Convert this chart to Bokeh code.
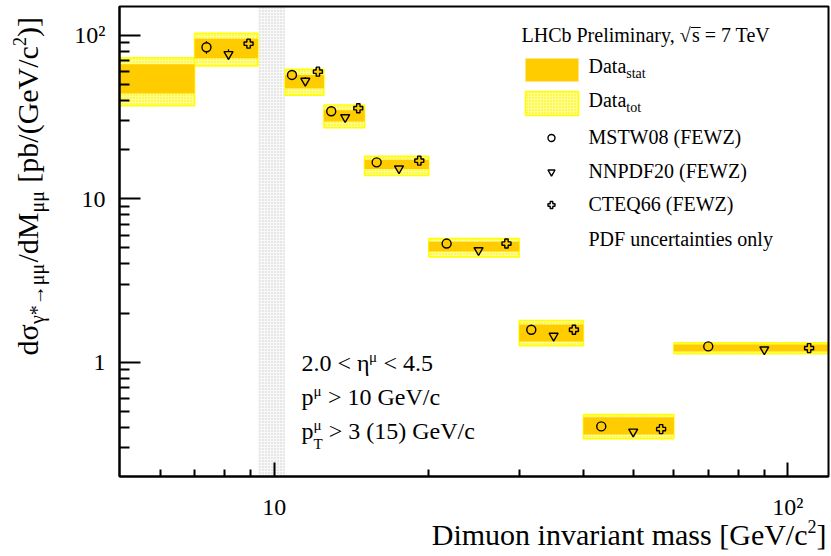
import math
from bokeh.plotting import figure
from bokeh.models import Label, BoxAnnotation, FixedTicker, Range1d, LogAxis
from bokeh.embed import file_html
from bokeh.resources import INLINE

# ---------------- data ----------------
bin_lo = [5.0, 7.0, 10.5, 12.5, 15.0, 20.0, 30.0, 40.0, 60.0]
bin_hi = [7.0, 9.3, 12.5, 15.0, 20.0, 30.0, 40.0, 60.0, 120.0]
stat_lo = [44.0, 72.3, 47.5, 29.7, 15.2, 4.75, 1.34, 0.362, 1.163]
stat_hi = [66.5, 95.3, 57.2, 34.8, 17.3, 5.45, 1.70, 0.461, 1.283]
tot_lo = [37.0, 64.9, 43.0, 27.2, 13.9, 4.40, 1.26, 0.340, 1.125]
tot_hi = [73.0, 102.9, 62.0, 37.4, 18.2, 5.71, 1.80, 0.479, 1.314]

# theory predictions exist for bins 2..9
mstw = [84.5, 57.2, 34.3, 16.7, 5.32, 1.58, 0.405, 1.25]
mstw_err = [7.5, 2.0, 1.2, 0.5, 0.15, 0.04, 0.010, 0.02]
nnpdf = [76.6, 52.6, 31.5, 15.3, 4.84, 1.45, 0.376, 1.196]
nnpdf_err = [5.5, 3.0, 1.5, 0.5, 0.15, 0.04, 0.010, 0.02]
cteq = [88.9, 59.9, 35.8, 17.1, 5.32, 1.58, 0.39, 1.22]
cteq_err = [4.0, 2.0, 1.2, 0.5, 0.15, 0.04, 0.010, 0.02]

excl_lo, excl_hi = 9.3, 10.5  # Upsilon region excluded

x_major = [10, 100]
x_minor = [6, 7, 8, 9, 20, 30, 40, 50, 60, 70, 80, 90]
x_labels = {10: "10", 100: "10\u00b2"}
y_major = [1, 10, 100]
y_minor = [0.3, 0.4, 0.5, 0.6, 0.7, 0.8, 0.9, 2, 3, 4, 5, 6, 7, 8, 9,
           20, 30, 40, 50, 60, 70, 80, 90]
y_labels = {1: "1", 10: "10", 100: "10\u00b2"}

legend_header = ["LHCb Preliminary, \u221a", "s", " = 7 TeV"]
legend_names = ["MSTW08 (FEWZ)", "NNPDF20 (FEWZ)", "CTEQ66 (FEWZ)"]
legend_note = "PDF uncertainties only"

# ---------------- layout ----------------
XMIN, XMAX = 5.0, 120.0      # axis extent
YMIN, YMAX = 0.2, 150.0
W_FIG, H_FIG = 831, 556
AX_L, AX_R, AX_T, AX_B = 119, 828, 6, 476   # pixel box of the axes
FONT = "Liberation Serif"
BASE_SHIFT = 0.38   # em; correction for where Bokeh puts the alphabetic baseline

LX0, LX1 = math.log10(XMIN), math.log10(XMAX)
LY0, LY1 = math.log10(YMIN), math.log10(YMAX)
DPX = (AX_R - AX_L) / (LX1 - LX0)
DPY = (AX_B - AX_T) / (LY1 - LY0)


def dx(px):
    return 10 ** (LX0 + (px - AX_L) / DPX)


def dy(py):
    return 10 ** (LY1 - (py - AX_T) / DPY)


p = figure(width=W_FIG, height=H_FIG, x_axis_type="log", y_axis_type="log",
           x_axis_location=None, y_axis_location=None,
           x_range=Range1d(dx(0), dx(W_FIG)), y_range=Range1d(dy(H_FIG), dy(0)),
           output_backend="svg", toolbar_location=None,
           min_border_left=0, min_border_right=0, min_border_top=0, min_border_bottom=0)
p.grid.visible = False
p.background_fill_color = "white"
p.border_fill_color = "white"
p.outline_line_color = None

xaxis = LogAxis(fixed_location=YMIN, bounds=(XMIN, XMAX))
yaxis = LogAxis(fixed_location=XMIN, bounds=(YMIN, YMAX))
for ax, major, minor, labels, tin, mtin, so in (
        (xaxis, x_major, x_minor, x_labels, 14, 7, 17),
        (yaxis, y_major, y_minor, y_labels, 21, 10, 14)):
    ax.ticker = FixedTicker(ticks=major, minor_ticks=minor)
    ax.major_label_overrides = labels
    ax.axis_line_width = 2
    ax.major_tick_line_width = 2
    ax.minor_tick_line_width = 2
    ax.major_tick_in = tin
    ax.major_tick_out = 0
    ax.minor_tick_in = mtin
    ax.minor_tick_out = 0
    ax.major_label_text_font = FONT
    ax.major_label_text_font_size = "24px"
    ax.major_label_text_color = "black"
    ax.major_label_standoff = so
p.add_layout(xaxis, "below")
p.add_layout(yaxis, "left")

# excluded region
p.add_layout(BoxAnnotation(left=excl_lo, right=excl_hi, bottom=YMIN, top=YMAX,
                           fill_color="#f8f8f8", fill_alpha=1,
                           line_color=None, hatch_pattern="dot", hatch_color="#cccccc",
                           hatch_scale=3, hatch_weight=1, level="underlay"))

TOT_STYLE = dict(fill_color="#ffff8c", line_color="#ffff00", line_width=1.5,
                 hatch_pattern="dot", hatch_color="#ffe800", hatch_scale=3, hatch_weight=1)
STAT_STYLE = dict(fill_color="#ffcc00", line_color=None)

p.quad(left=bin_lo, right=bin_hi, bottom=tot_lo, top=tot_hi, **TOT_STYLE)
p.quad(left=bin_lo, right=bin_hi, bottom=stat_lo, top=stat_hi, **STAT_STYLE)

th_lo = bin_lo[1:]
th_hi = bin_hi[1:]
for frac, vals, errs, marker in ((1 / 6, mstw, mstw_err, "circle"),
                                  (1 / 2, nnpdf, nnpdf_err, "inverted_triangle"),
                                  (5 / 6, cteq, cteq_err, "plus")):
    xs = [lo + (hi - lo) * frac for lo, hi in zip(th_lo, th_hi)]
    p.segment(x0=xs, x1=xs, y0=[v - e for v, e in zip(vals, errs)],
              y1=[v + e for v, e in zip(vals, errs)], line_color="black", line_width=1.2)
    p.scatter(x=xs, y=vals, marker=marker, size=9, fill_color="#ffcc00",
              line_color="black", line_width=1.4)

# frame box
p.add_layout(BoxAnnotation(left=XMIN, right=XMAX, bottom=YMIN, top=YMAX,
                           fill_color=None, fill_alpha=0, line_color="black",
                           line_width=2, line_alpha=1))

# ---------------- text helpers ----------------
WID = {' ': 250, '!': 333, '(': 333, ')': 333, '*': 500, ',': 250, '.': 250, '/': 278,
       '<': 564, '>': 564, '=': 564, '[': 333, ']': 333,
       'A': 722, 'B': 667, 'C': 667, 'D': 722, 'E': 611, 'F': 556, 'G': 722, 'H': 722, 'I': 333,
       'L': 611, 'M': 889, 'N': 722, 'P': 556, 'Q': 722, 'S': 556, 'T': 611, 'V': 722, 'W': 944,
       'Z': 611, 'a': 444, 'b': 500, 'c': 444, 'd': 500, 'e': 444, 'i': 278, 'l': 278, 'm': 778,
       'n': 500, 'o': 500, 'p': 500, 'r': 333, 's': 389, 't': 278, 'u': 500, 'v': 500, 'y': 500,
       '\u03c3': 550, '\u03b3': 450, '\u03b7': 500, '\u03bc': 560, '\u2192': 1000, '\u221a': 549}


def tw(s, size):
    return sum(WID.get(c, 500) for c in s) * size / 1000.0


def lab(text, px, py, size, angle=0.0, align="left"):
    # px, py: wanted baseline anchor in picture pixels
    if angle:
        px -= BASE_SHIFT * size
    else:
        py -= BASE_SHIFT * size
    p.add_layout(Label(x=dx(px), y=dy(py), text=text, text_font=FONT,
                       text_font_size=f"{size}px", text_align=align,
                       text_baseline="alphabetic", angle=angle, text_color="black"))


def rich(px, py, segs):
    x = px
    for text, size, off, adv in segs:
        body = text.lstrip(" ")
        x += tw(text[:len(text) - len(body)], size)
        lab(body, x, py + off, size)
        if adv:
            x += tw(body, size)
    return x


def rich_v(px, py, segs):
    y = py
    for text, size, off in segs:
        body = text.lstrip(" ")
        y -= tw(text[:len(text) - len(body)], size)
        lab(body, px + off, y, size, angle=math.pi / 2)
        y -= tw(body, size)


MU = "\u03bc"
# y-axis title
rich_v(38, 355, [("d\u03c3", 30, 0), ("\u03b3*\u2192" + MU + MU, 20, 6), ("/dM", 30, 0),
                 (MU + MU, 20, 6), (" [pb/(GeV/c", 30, 0), ("2", 18, -12), (")]", 30, 0)])

# x-axis title (right aligned)
xr = 826
lab("]", xr, 545, 30, align="right")
xr -= tw("]", 30)
lab("2", xr, 533, 18, align="right")
xr -= tw("2", 18)
lab("Dimuon invariant mass [GeV/c", xr, 545, 30, align="right")

# cut texts
rich(301, 372, [("2.0 < \u03b7", 24, 0, True), (MU, 15, -10, True), (" < 4.5", 24, 0, True)])
rich(301, 406, [("p", 24, 0, True), (MU, 15, -10, True), (" > 10 GeV/c", 24, 0, True)])
rich(301, 440, [("p", 24, 0, True), (MU, 15, -10, False), ("T", 15, 9, True),
                (" > 3 (15) GeV/c", 24, 0, True)])

# legend
hx = 521
rich(hx, 42, [(legend_header[0], 20, 0, True), (legend_header[1], 20, 0, True),
              (legend_header[2], 20, 0, True)])
s_x0 = hx + tw(legend_header[0], 20) - 1
s_x1 = s_x0 + tw(legend_header[1], 20) + 2
p.segment(x0=[dx(s_x0)], x1=[dx(s_x1)], y0=[dy(27)], y1=[dy(27)], line_color="black",
          line_width=1)
p.quad(left=[dx(525)], right=[dx(578)], top=[dy(58)], bottom=[dy(81)], **STAT_STYLE)
p.quad(left=[dx(525)], right=[dx(578)], top=[dy(91)], bottom=[dy(115)], **TOT_STYLE)
rich(588, 73.5, [("Data", 20, 0, True), ("stat", 14, 5, True)])
rich(588, 107, [("Data", 20, 0, True), ("tot", 14, 5, True)])
leg_rows = [137.5, 171.5, 204.5]
for row, marker, name in zip(leg_rows, ["circle", "inverted_triangle", "plus"], legend_names):
    p.scatter(x=[dx(551)], y=[dy(row)], marker=marker, size=7, fill_color=None,
              line_color="black", line_width=1.4)
    lab(name, 588, row + 6.8, 20)
lab(legend_note, 588, 246, 20)

open("out.html", "w").write(file_html(p, INLINE))
